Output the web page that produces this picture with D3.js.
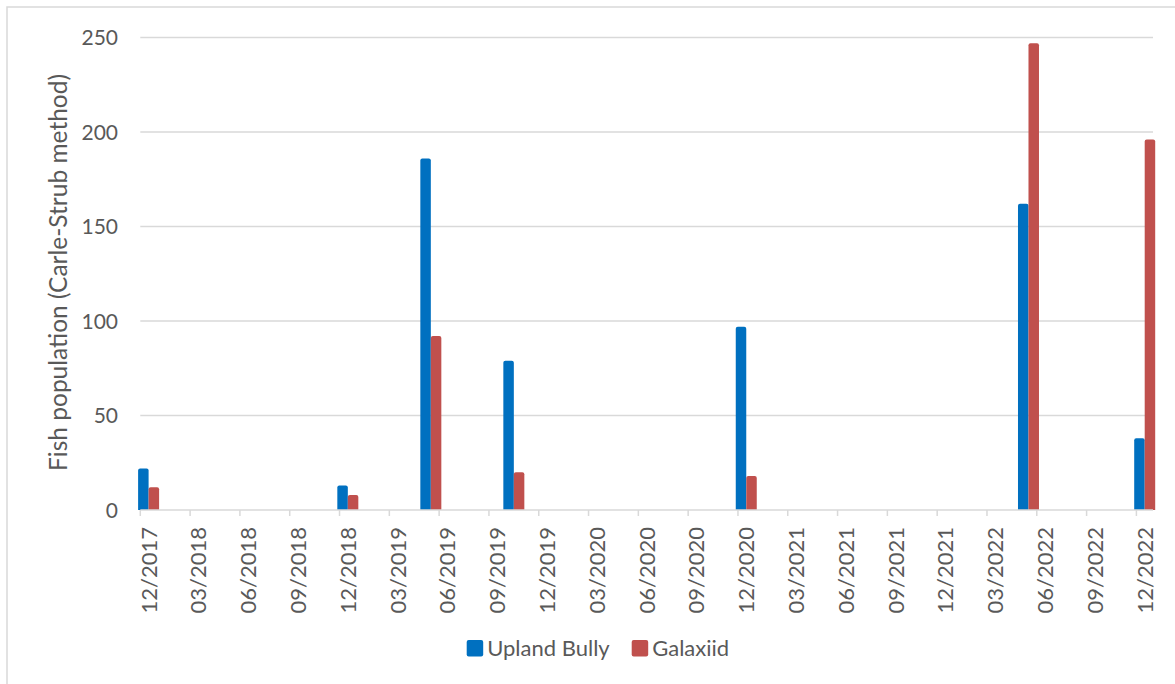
<!DOCTYPE html>
<html><head><meta charset="utf-8">
<script src="https://cdn.jsdelivr.net/npm/d3@7/dist/d3.min.js"></script>
<style>
html,body{margin:0;padding:0;background:#fff;}
svg{display:block;font-family:Lato,"Open Sans",sans-serif;}
</style></head>
<body>
<svg id="c" width="1175" height="684"></svg>
<script>
// ---- data ----
const sampleDates = ["2017-12","2018-12","2019-05","2019-10","2020-12","2022-05","2022-12"];
const uplandBully = [22,13,186,79,97,162,38];
const galaxiid    = [12,8,92,20,18,247,196];
const seriesNames = ["Upland Bully","Galaxiid"];
const seriesColors = ["#0070C0","#C0504D"];
const yTicks = [0,50,100,150,200,250];
const yTitle = "Fish population (Carle-Strub method)";

// month slots from 12/2017 to 12/2022
const fmtKey = d3.timeFormat("%Y-%m");
const fmtLab = d3.timeFormat("%m/%Y");
const months = d3.timeMonths(new Date(2017,11,1), new Date(2023,0,1));
const monthKeys = months.map(fmtKey);
const tickMonths = months.filter((d,i)=> i%3===0);

const svg = d3.select("#c");
const textCol = "#595959", gridCol = "#d9d9d9";

// chart border (only top/left visible)
svg.append("rect").attr("x",7).attr("y",7).attr("width",1300).attr("height",800)
  .attr("fill","none").attr("stroke",gridCol).attr("stroke-width",1.5);

const x = d3.scaleBand().domain(monthKeys).range([140.3,1153]).padding(0);
const y = d3.scaleLinear().domain([0,250]).range([510,37.5]);

// gridlines
svg.append("g").selectAll("line").data(yTicks.filter(d=>d>0)).join("line")
  .attr("x1",140.3).attr("x2",1153).attr("y1",d=>y(d)).attr("y2",d=>y(d))
  .attr("stroke",gridCol).attr("stroke-width",1.5);

// y tick labels
svg.append("g").selectAll("text").data(yTicks).join("text")
  .attr("x",118).attr("y",d=>y(d)).attr("dy","0.36em").attr("text-anchor","end")
  .attr("fill",textCol).attr("font-size",21).text(d=>d);

// y title
svg.append("text").attr("transform",`translate(67,${(72+473)/2}) rotate(-90)`)
  .attr("text-anchor","middle").attr("fill",textCol).attr("font-size",24.5).text(yTitle);

// bars
const bw = 10.5;
function barPath(x0,w,yTop,yBot){
  const r = Math.min(2, (yBot-yTop)/2);
  return `M${x0},${yBot}V${yTop+r}Q${x0},${yTop} ${x0+r},${yTop}H${x0+w-r}Q${x0+w},${yTop} ${x0+w},${yTop+r}V${yBot}Z`;
}
[uplandBully,galaxiid].forEach((vals,s)=>{
  svg.append("g").selectAll("path").data(vals.map((v,i)=>({v,k:sampleDates[i]}))).join("path")
    .attr("fill",seriesColors[s])
    .attr("d",d=>{
      const cx = x(d.k)+x.bandwidth()/2;
      return barPath(cx - bw + s*bw, bw, y(d.v), y(0));
    });
});

// x axis line
svg.append("line").attr("x1",140.3).attr("x2",1153).attr("y1",y(0)).attr("y2",y(0))
  .attr("stroke",gridCol).attr("stroke-width",1.5);
// ticks
svg.append("g").selectAll("line").data(tickMonths).join("line")
  .attr("x1",d=>x(fmtKey(d))).attr("x2",d=>x(fmtKey(d)))
  .attr("y1",y(0)).attr("y2",y(0)+6).attr("stroke",gridCol).attr("stroke-width",1.5);
// tick labels
svg.append("g").selectAll("text").data(tickMonths).join("text")
  .attr("transform",d=>`translate(${x(fmtKey(d))+x.bandwidth()/2},527) rotate(-90)`)
  .attr("dy","0.36em").attr("text-anchor","end").attr("fill",textCol).attr("font-size",22)
  .text(d=>fmtLab(d));

// legend
const leg = svg.append("g");
const legX = [466.7, 631.7];
seriesNames.forEach((n,i)=>{
  leg.append("rect").attr("x",legX[i]).attr("y",640).attr("width",16.5).attr("height",16.5)
    .attr("rx",2).attr("fill",seriesColors[i]);
  leg.append("text").attr("x",legX[i]+20.5).attr("y",656).attr("fill",textCol)
    .attr("font-size",22).text(n);
});
</script>
</body></html>
